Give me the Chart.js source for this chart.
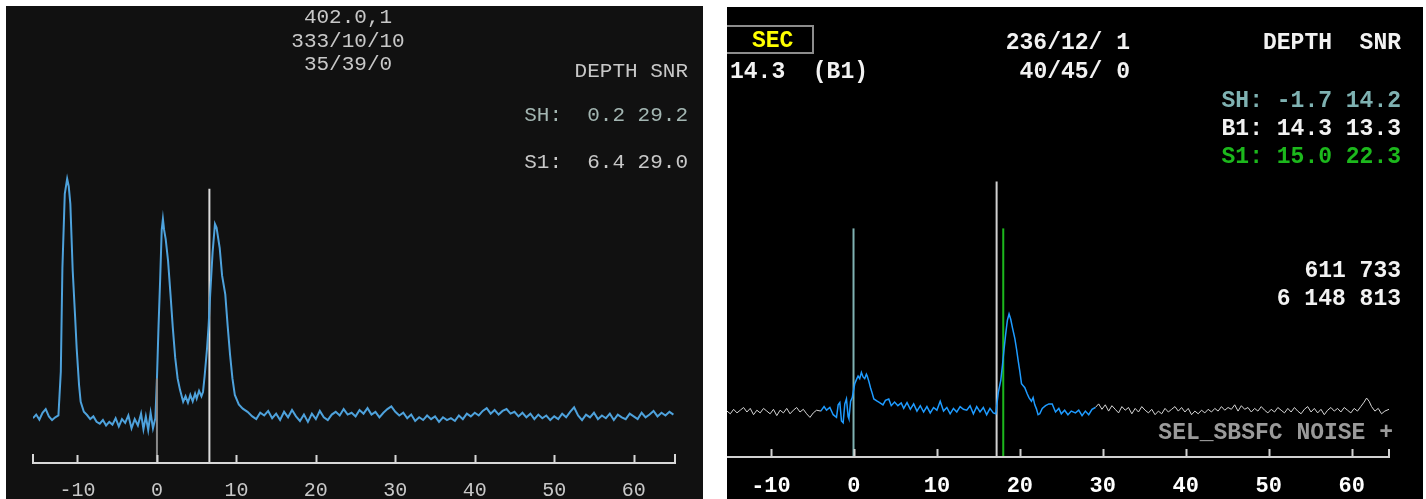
<!DOCTYPE html>
<html><head><meta charset="utf-8">
<script src="https://cdn.jsdelivr.net/npm/chart.js@4/dist/chart.umd.min.js"></script>
<style>
html,body{margin:0;padding:0;background:#fff;width:1426px;height:499px;overflow:hidden}
body{position:relative}
.panel{position:absolute;overflow:hidden}
#pl{left:6px;top:6px;width:697px;height:493px;background:#111}
#pr{left:727px;top:7px;width:696px;height:492px;background:#000}
canvas{position:absolute;left:0;top:0}
.t{position:absolute;white-space:pre;line-height:1}
.l{font-family:'Liberation Mono',monospace;font-size:21px;color:#c8c8c8}
.r{font-family:'Liberation Mono',monospace;font-size:23px;font-weight:bold;color:#f2f2f2}
.c{text-align:center;width:240px}
#secbox{position:absolute;left:727px;top:25px;width:87px;height:29px;box-sizing:border-box;border:2px solid #8c8c8c;border-left:none}
</style></head>
<body>
<div class="panel" id="pl"><canvas id="cl" width="697" height="514"></canvas></div>
<div class="panel" id="pr"><canvas id="cr" width="696" height="511"></canvas></div>

<div class="t l c" style="left:228px;top:7px">402.0,1</div>
<div class="t l c" style="left:228px;top:31px">333/10/10</div>
<div class="t l c" style="left:228px;top:54px">35/39/0</div>
<div class="t l" style="right:738px;top:61px">DEPTH SNR</div>
<div class="t l" style="right:738px;top:105px;color:#a3b6b2">SH:  0.2 29.2</div>
<div class="t l" style="right:738px;top:152px">S1:  6.4 29.0</div>

<div id="secbox"></div>
<div class="t r" style="left:752px;top:30px;color:#ffff00">SEC</div>
<div class="t r" style="left:730px;top:61px">14.3  (B1)</div>
<div class="t r" style="right:296px;top:32px">236/12/ 1</div>
<div class="t r" style="right:296px;top:61px">40/45/ 0</div>
<div class="t r" style="right:25px;top:32px">DEPTH  SNR</div>
<div class="t r" style="right:25px;top:90px;color:#7fb2b2">SH: -1.7 14.2</div>
<div class="t r" style="right:25px;top:118px">B1: 14.3 13.3</div>
<div class="t r" style="right:25px;top:146px;color:#1cb81c">S1: 15.0 22.3</div>
<div class="t r" style="right:25px;top:260px">611 733</div>
<div class="t r" style="right:25px;top:288px">6 148 813</div>
<div class="t r" style="right:33px;top:422px;color:#9a9a9a">SEL_SBSFC NOISE +</div>

<script>
// ---- tick labels (depth) ----
const depthTicks = [-10, 0, 10, 20, 30, 40, 50, 60];

// ---- left panel: trace (depth, amplitude) ----
const leftDepth = [-15.6,-15.2,-14.8,-14.4,-14.0,-13.6,-13.2,-12.8,-12.4,-12.1,-11.9,-11.6,-11.3,-11.1,-10.9,-10.6,-10.3,-10.1,-9.8,-9.6,-9.2,-8.8,-8.4,-8.0,-7.6,-7.2,-6.8,-6.4,-6.0,-5.6,-5.2,-4.8,-4.4,-4.0,-3.6,-3.2,-2.8,-2.4,-2.0,-1.7,-1.4,-1.1,-0.8,-0.5,-0.2,0.0,0.2,0.4,0.6,0.75,0.9,1.1,1.4,1.7,2.0,2.3,2.6,2.9,3.3,3.6,3.9,4.2,4.5,4.8,5.0,5.3,5.6,5.8,6.0,6.3,6.5,6.7,7.0,7.3,7.5,7.9,8.2,8.6,8.9,9.2,9.5,9.8,10.3,10.8,11.4,
12.0,12.5,13.0,13.5,14.0,14.5,15.0,15.5,16.0,16.5,17.0,17.5,18.0,18.5,19.0,19.5,20.0,20.5,21.0,21.5,22.0,22.5,23.0,23.5,24.0,24.5,25.0,25.5,26.0,26.5,27.0,27.5,28.0,28.5,29.0,29.5,30.0,30.5,31.0,31.5,32.0,32.5,33.0,33.5,34.0,34.5,35.0,35.5,36.0,36.5,37.0,37.5,38.0,38.5,39.0,39.5,40.0,40.5,41.0,41.5,42.0,42.5,43.0,43.5,44.0,44.5,45.0,45.5,46.0,46.5,47.0,47.5,48.0,48.5,49.0,49.5,50.0,50.5,51.0,51.5,52.0,52.5,53.0,53.5,54.0,54.5,55.0,55.5,56.0,56.5,57.0,57.5,58.0,58.5,59.0,59.5,60.0,60.5,61.0,61.5,62.0,62.5,63.0,63.5,64.0,64.5,65.0];
const leftAmp = [9.8,10.6,9.5,11.0,11.8,10.2,9.4,10.0,10.4,20,42.6,58.9,62.2,60.5,56.7,42,32,25,17,13.4,11.2,10.5,9.6,10.2,9.0,8.6,9.4,8.2,9.0,8.4,9.8,8.0,9.6,8.8,10.4,7.6,9.6,8.2,10.8,7.4,10.2,7.2,11.0,7.6,9.8,18.5,30,40,51,53.4,51,49,44.2,37,29.5,23,18.5,16,13.4,14.6,13.2,14.9,13.5,15.2,14.1,15.8,14.6,15.6,19,25,30,36.9,46,52.3,51.5,47,41,36.9,30,23.7,18.5,14.9,12.8,11.9,11.2,
10.2,9.6,11.0,10.4,11.4,9.8,10.8,9.4,11.2,10.0,11.6,10.2,9.2,10.6,9.0,10.8,9.6,11.4,10.0,9.4,10.6,11.2,10.4,11.8,10.6,11.0,10.2,11.6,10.8,12.0,10.6,11.2,10.0,11.0,11.8,12.4,11.2,10.4,11.0,9.8,10.6,9.2,10.0,9.4,10.4,9.6,10.2,9.0,10.0,9.4,9.8,9.2,10.4,9.6,10.8,10.2,11.0,10.4,11.4,12.0,10.8,11.6,10.6,11.4,11.8,10.8,11.2,10.2,11.0,10.0,10.8,9.6,10.6,9.8,10.4,9.4,10.2,9.6,10.8,10.0,11.2,12.2,10.4,9.4,10.6,10.0,11.0,9.6,10.4,9.8,10.8,9.4,10.6,10.0,9.6,10.8,10.2,9.6,11.0,10.0,10.6,11.4,10.2,11.0,10.4,11.2,10.6];
// left markers: SH (gray) and S1 (white)
const leftMarkerDepth = [0.0, 6.6];
const leftMarkerTop = [18.5, 60.0];

// ---- right panel: trace split into white / blue / white parts ----
const rightWhiteLDepth = [-15.3,-14.9,-14.5,-14.1,-13.7,-13.3,-12.9,-12.5,-12.1,-11.7,-11.3,-10.9,-10.5,-10.1,-9.7,-9.3,-8.9,-8.5,-8.1,-7.7,-7.3,-6.9,-6.5,-6.1,-5.7,-5.3,-4.9,-4.5,-4.0];
const rightWhiteLAmp = [10.2,9.6,10.6,9.8,10.4,11.0,10.0,10.8,9.4,10.4,9.8,10.8,10.2,9.6,10.6,9.2,10.4,9.8,10.8,9.6,10.4,11.0,10.0,10.6,9.6,8.8,9.8,10.4,10.2];
const rightBlueDepth = [-4.0,-3.6,-3.3,-2.9,-2.5,-2.1,-1.9,-1.7,-1.5,-1.3,-1.1,-0.9,-0.7,-0.6,-0.4,-0.2,0.1,0.3,0.5,0.7,0.9,1.1,1.3,1.5,1.6,1.8,2.0,2.2,2.4,2.8,3.1,3.5,3.8,4.2,4.5,4.9,5.3,5.7,6.0,6.4,6.8,7.2,7.6,8.0,8.4,8.8,9.2,9.6,10.0,10.4,10.8,11.2,11.6,12.0,12.4,12.8,13.2,13.6,14.0,14.4,14.8,15.2,15.6,16.0,16.4,16.8,17.1,17.4,17.7,17.9,18.1,18.3,18.5,18.7,18.9,19.1,19.4,19.6,19.8,20.0,20.2,20.6,20.9,21.1,21.4,21.6,21.8,22.0,22.2,22.4,22.7,23.1,23.5,23.9,24.3,24.7,25.0,25.4,25.8,26.2,26.7,27.1,27.5,27.9,28.3,28.7,29.1];
const rightBlueAmp = [10.2,11.2,10.4,11.0,9.4,8.8,11.6,12.1,8.0,7.6,11.8,12.9,9.0,8.5,12.4,13.2,16.3,17.2,18.0,17.4,18.8,17.8,17.4,18.4,18.0,16.8,15.4,14.2,12.9,12.4,12.1,11.6,12.6,12.9,11.4,12.2,11.4,12.0,10.8,12.1,10.6,11.8,10.2,11.4,10.0,11.2,9.8,11.0,10.4,12.4,10.2,11.0,9.6,10.8,10.0,11.2,10.6,10.4,11.4,9.6,11.2,10.0,11.0,9.4,10.8,9.8,9.6,14.3,17.0,20.3,24.0,27.4,30.4,31.8,30.6,28.8,26.3,24.0,21.4,19.0,16.3,15.4,14.0,13.2,12.4,13.2,11.6,10.7,9.4,9.6,10.8,11.4,11.8,11.8,10.0,10.8,9.6,10.4,9.4,10.2,9.8,10.4,9.2,10.2,9.4,10.6,11.0];
const rightWhiteRDepth = [29.1,29.5,29.9,30.3,30.7,31.1,31.5,31.9,32.3,32.7,33.1,33.5,33.9,34.3,34.7,35.1,35.5,35.9,36.3,36.7,37.1,37.5,37.9,38.3,38.7,39.1,39.5,39.9,40.3,40.7,41.1,41.5,41.9,42.3,42.7,43.1,43.5,43.9,44.3,44.7,45.1,45.5,45.9,46.3,46.7,47.1,47.5,47.9,48.3,48.7,49.1,49.5,49.9,50.3,50.7,51.1,51.5,51.9,52.3,52.7,53.1,53.5,53.9,54.3,54.7,55.1,55.5,55.9,56.3,56.7,57.1,57.5,57.9,58.3,58.7,59.1,59.5,59.9,60.3,60.7,61.1,61.5,61.8,62.1,62.4,62.8,63.2,63.6,64.0,64.5];
const rightWhiteRAmp = [11.0,11.8,10.6,11.6,10.2,11.4,10.6,9.8,11.2,10.4,11.0,9.6,10.8,10.0,11.2,10.4,9.8,10.6,9.4,10.2,9.6,10.8,10.0,10.6,11.2,10.2,11.0,10.0,10.8,9.4,10.2,9.6,10.4,9.8,10.6,10.0,10.8,10.2,11.2,10.4,11.0,10.6,11.6,10.2,11.4,10.6,11.0,10.0,10.8,10.2,11.2,10.4,9.8,10.6,10.0,11.0,10.4,9.8,10.8,10.0,11.0,10.2,9.6,10.6,11.2,10.0,10.8,9.8,10.6,9.4,10.4,11.0,10.2,10.8,10.0,11.0,10.4,9.8,10.8,10.2,11.2,12.2,13.1,12.4,11.2,10.2,10.8,9.6,10.2,10.6];
// right markers: SH (teal), B1 (white), S1 (green)
const rightMarkerDepth = [-0.05, 17.2, 18.0];
const rightMarkerTop = [50.8, 61.2, 50.8];

const pts = (xs, ys) => xs.map((x, i) => ({x, y: ys[i]}));
const vline = (x, top) => [{x, y: 0}, {x, y: top}];

const axisMarks = {
  id: 'axisMarks',
  afterDatasetsDraw(chart, args, o) {
    const {ctx, scales: {x, y}} = chart;
    const y0 = y.getPixelForValue(0);
    ctx.save();
    ctx.strokeStyle = o.color; ctx.lineWidth = o.width; ctx.lineCap = 'butt';
    ctx.beginPath();
    if (o.leftCap) { ctx.moveTo(x.left, y0 - o.cap); ctx.lineTo(x.left, y0); } else ctx.moveTo(x.left, y0);
    ctx.lineTo(x.right, y0); ctx.lineTo(x.right, y0 - o.cap);
    depthTicks.forEach(v => { const p = Math.round(x.getPixelForValue(v)) + 0.5; ctx.moveTo(p, y0); ctx.lineTo(p, y0 - o.tick); });
    ctx.stroke();
    ctx.restore();
  }
};

function makeChart(id, datasets, xmin, xmax, pad, tickFont, tickColor, tickPad, axisOpts) {
  return new Chart(document.getElementById(id), {
    type: 'scatter',
    data: {datasets},
    plugins: [axisMarks],
    options: {
      responsive: false, animation: false, events: [],
      layout: {padding: pad},
      plugins: {legend: {display: false}, tooltip: {enabled: false}, axisMarks: axisOpts},
      scales: {
        x: {type: 'linear', min: xmin, max: xmax,
            afterBuildTicks: s => { s.ticks = depthTicks.map(v => ({value: v})); },
            grid: {display: false, drawTicks: false}, border: {display: false},
            ticks: {color: tickColor, font: tickFont, padding: tickPad, maxRotation: 0, autoSkip: false}},
        y: {type: 'linear', min: 0, max: 100, display: false}
      },
      elements: {point: {radius: 0}, line: {tension: 0}}
    }
  });
}

const lineDs = (data, color, w) => ({data, borderColor: color, borderWidth: w, showLine: true, pointRadius: 0, fill: false});

makeChart('cl', [
  lineDs(vline(leftMarkerDepth[0], leftMarkerTop[0]), '#8a8a8a', 2),
  lineDs(pts(leftDepth, leftAmp), '#4ea2dc', 2),
  lineDs(vline(leftMarkerDepth[1], leftMarkerTop[1]), '#dcdcdc', 2)
], -15.6, 65.2, {left: 27, right: 28, top: 0, bottom: 1},
  {family: 'Liberation Mono', size: 20, lineHeight: 0.9}, '#c8c8c8', 19,
  {color: '#d8d8d8', width: 2, cap: 9, tick: 8, leftCap: true});

makeChart('cr', [
  lineDs(pts(rightWhiteLDepth, rightWhiteLAmp), '#d6d6d6', 1),
  lineDs(pts(rightBlueDepth, rightBlueAmp), '#1e9bff', 1.5),
  lineDs(pts(rightWhiteRDepth, rightWhiteRAmp), '#d6d6d6', 1),
  lineDs(vline(rightMarkerDepth[0], rightMarkerTop[0]), '#7fb2b2', 2),
  lineDs(vline(rightMarkerDepth[1], rightMarkerTop[1]), '#d0d0d0', 2),
  lineDs(vline(rightMarkerDepth[2], rightMarkerTop[2]), '#1cb81c', 2)
], -15.3, 64.5, {left: 0, right: 34, top: 0, bottom: 3},
  {family: 'Liberation Mono', size: 22, weight: 'bold', lineHeight: 1}, '#ffffff', 18,
  {color: '#d0d0d0', width: 2, cap: 8, tick: 8, leftCap: false});
</script>
</body></html>
